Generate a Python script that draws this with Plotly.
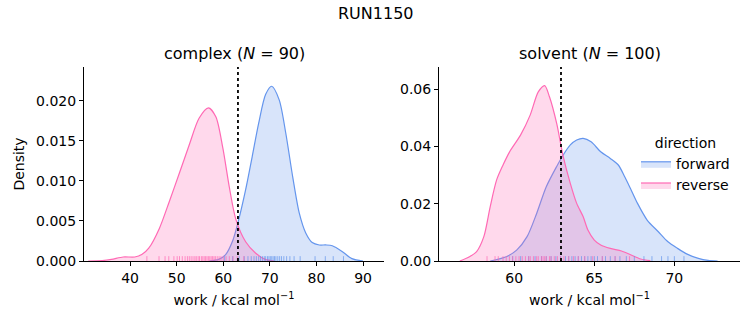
import plotly.graph_objects as go

# ---------------- data ----------------
suptitle = "RUN1150"
panel_titles = ["complex (<i>N</i> = 90)", "solvent (<i>N</i> = 100)"]
directions = ["forward", "reverse"]

# KDE curves: complex
cx_fwd_x = [57, 59, 60.5, 62, 63.2, 64.8, 66.2, 67.6, 69.1, 70.4, 72.0, 73.4, 74.9, 76.3, 77.7, 79.1, 80.6, 82.0, 83.4, 85.5, 87.6, 90.0]
cx_fwd_y = [0.0, 0.0002, 0.0008, 0.0025, 0.0049, 0.0089, 0.013, 0.0172, 0.0208, 0.0218, 0.0201, 0.016, 0.0105, 0.006, 0.0035, 0.0023, 0.002, 0.002, 0.0019, 0.0012, 0.0003, 0.0]
cx_rev_x = [31, 34, 36, 38.5, 41, 42.5, 44, 46.3, 48.4, 50.6, 52.7, 54.8, 56.8, 58.4, 59.9, 61.3, 62.7, 64.8, 66.9, 69, 71]
cx_rev_y = [0.0, 0.00005, 0.0002, 0.0005, 0.0005, 0.0008, 0.0016, 0.0041, 0.0074, 0.011, 0.0145, 0.0178, 0.0191, 0.018, 0.0141, 0.0092, 0.0052, 0.0024, 0.001, 0.0002, 0.0]

# KDE curves: solvent
sv_fwd_x = [58.5, 59.5, 60.15, 60.8, 61.4, 62.0, 62.65, 63.06, 63.5, 63.9, 64.3, 64.8, 65.4, 66.0, 66.5, 66.9, 67.3, 67.7, 68.3, 69.0, 69.6, 70.2, 70.8, 71.5, 72.1, 72.7]
sv_fwd_y = [0.0, 0.0015, 0.0038, 0.0085, 0.0166, 0.0259, 0.033, 0.037, 0.0405, 0.0422, 0.0428, 0.0416, 0.0381, 0.0358, 0.0335, 0.0294, 0.0248, 0.0201, 0.0143, 0.0102, 0.0067, 0.0044, 0.0024, 0.0009, 0.0002, 0.0]
sv_rev_x = [56.6, 57.2, 57.65, 58.1, 58.5, 58.9, 59.3, 59.7, 60.4, 61.0, 61.5, 61.9, 62.2, 62.65, 63.06, 63.5, 63.9, 64.3, 64.6, 65.0, 65.4, 66.0, 66.7, 67.3, 67.9, 68.5]
sv_rev_y = [0.0, 0.0015, 0.0033, 0.0085, 0.019, 0.0283, 0.0335, 0.038, 0.044, 0.051, 0.059, 0.0612, 0.0573, 0.048, 0.0364, 0.0271, 0.0201, 0.0155, 0.0108, 0.0073, 0.0056, 0.0044, 0.0035, 0.0021, 0.0007, 0.0001]

# rug samples (approximate)
cx_fwd_rug = [60.3, 62.0, 63.4, 64.5, 65.3, 66.0, 66.6, 67.1, 67.6, 68.0, 68.4, 68.8, 69.1, 69.5, 69.8, 70.1, 70.4, 70.7, 71.0, 71.3, 71.7, 72.1, 72.5, 73.0, 73.6, 74.3, 75.2, 76.5, 79.7, 81.9, 83.6, 85.8]
cx_rev_rug = [43.6, 46.2, 47.5, 48.3, 49.4, 50.1, 50.6, 51.2, 51.8, 52.3, 52.7, 53.1, 53.5, 53.9, 54.2, 54.6, 54.9, 55.3, 55.6, 55.9, 56.2, 56.5, 56.8, 57.1, 57.4, 57.7, 58.0, 58.3, 58.7, 59.1, 59.5, 60.0, 60.6, 61.3, 62.1, 63.0, 64.4]
sv_fwd_rug = [59.9, 60.4, 60.9, 61.3, 61.7, 62.0, 62.3, 62.6, 62.9, 63.2, 63.4, 63.6, 63.8, 64.0, 64.2, 64.4, 64.6, 64.8, 65.0, 65.2, 65.5, 65.7, 66.0, 66.3, 66.6, 67.0, 67.5, 68.1, 68.6, 69.2, 69.6, 70.0, 70.6]
sv_rev_rug = [58.3, 58.8, 59.0, 59.3, 59.5, 59.7, 59.9, 60.1, 60.3, 60.5, 60.7, 60.9, 61.0, 61.2, 61.4, 61.5, 61.7, 61.8, 61.9, 62.0, 62.2, 62.3, 62.5, 62.7, 62.9, 63.1, 63.4, 63.7, 64.0, 64.4, 64.9, 65.5, 66.3, 67.2]

# dotted reference lines (free energy estimates)
ref_lines = [63.15, 62.92]

x_ticks = [[40, 50, 60, 70, 80, 90], [60, 65, 70]]
y_ticks = [[0.0, 0.005, 0.010, 0.015, 0.020], [0.0, 0.02, 0.04, 0.06]]

# ---------------- style ----------------
FONT = "DejaVu Sans"
line_col = {"forward": "#6495ED", "reverse": "#FF69B4"}
fill_col = {"forward": "rgba(100,149,237,0.25)", "reverse": "rgba(255,105,180,0.25)"}
rug_col = {"forward": "rgba(100,149,237,0.7)", "reverse": "rgba(255,105,180,0.7)"}

W, H = 753, 325
xdom = [[84 / W, 384 / W], [439 / W, 740 / W]]
ydom = [(325 - 261) / H, (325 - 67) / H]
xr = [[30.1, 94.5], [55.3, 74.1]]
yr = [[0, 0.0242], [0, 0.0677]]
yfmt = [".3f", ".2f"]

fig = go.Figure()

panels = [
    {"fwd": (cx_fwd_x, cx_fwd_y, cx_fwd_rug), "rev": (cx_rev_x, cx_rev_y, cx_rev_rug)},
    {"fwd": (sv_fwd_x, sv_fwd_y, sv_fwd_rug), "rev": (sv_rev_x, sv_rev_y, sv_rev_rug)},
]

for i, p in enumerate(panels):
    xa = "x" if i == 0 else "x2"
    ya = "y" if i == 0 else "y2"
    for key, d in (("fwd", "forward"), ("rev", "reverse")):
        xs, ys, rug = p[key]
        fig.add_trace(go.Scatter(
            x=xs, y=ys, mode="lines", xaxis=xa, yaxis=ya,
            line=dict(color=line_col[d], width=1.2, shape="spline", smoothing=0.8),
            fill="tozeroy", fillcolor=fill_col[d],
            name=d, legendgroup=d, showlegend=(i == 1),
            hoverinfo="skip",
        ))
        for v in rug:
            fig.add_shape(type="line", xref=xa, yref=f"{ya} domain",
                          x0=v, x1=v, y0=0, y1=0.025,
                          line=dict(color=rug_col[d], width=1), layer="above")
    fig.add_shape(type="line", xref=xa, yref=f"{ya} domain",
                  x0=ref_lines[i], x1=ref_lines[i], y0=0, y1=1,
                  line=dict(color="black", width=1.8, dash="dot"), layer="above")

axis_common = dict(showline=True, linecolor="black", linewidth=1, mirror=False,
                   ticks="outside", ticklen=4, tickwidth=1, tickcolor="black",
                   showgrid=False, zeroline=False, automargin=False,
                   tickfont=dict(family=FONT, size=14, color="black"))

for i in range(2):
    sx = "" if i == 0 else "2"
    fig.update_layout(**{
        f"xaxis{sx}": dict(axis_common, domain=xdom[i], range=xr[i], tickvals=x_ticks[i],
                           anchor="y" + sx,
                           title=dict(text="work / kcal mol<sup>−1</sup>",
                                      font=dict(family=FONT, size=14, color="black"), standoff=10)),
        f"yaxis{sx}": dict(axis_common, domain=ydom, range=yr[i], tickvals=y_ticks[i],
                           tickformat=yfmt[i], anchor="x" + sx,
                           title=dict(text="Density" if i == 0 else "",
                                      font=dict(family=FONT, size=14, color="black"), standoff=8)),
    })

annotations = [
    dict(text=suptitle, x=376 / W, y=1 - 13 / H, xref="paper", yref="paper",
         showarrow=False, font=dict(family=FONT, size=16, color="black"),
         xanchor="center", yanchor="middle"),
]
for i in range(2):
    annotations.append(dict(text=panel_titles[i], x=(xdom[i][0] + xdom[i][1]) / 2, y=1 - 54 / H,
                            xref="paper", yref="paper", showarrow=False,
                            font=dict(family=FONT, size=16, color="black"),
                            xanchor="center", yanchor="middle"))

fig.update_layout(
    width=W, height=H,
    margin=dict(l=0, r=0, t=0, b=0, autoexpand=False),
    paper_bgcolor="white", plot_bgcolor="white",
    annotations=annotations,
    font=dict(family=FONT, size=14, color="black"),
    legend=dict(title=dict(text="direction", side="top center",
                           font=dict(family=FONT, size=14, color="black")),
                x=636 / W, y=1 - 130 / H, xanchor="left", yanchor="top",
                bgcolor="rgba(0,0,0,0)", font=dict(family=FONT, size=14, color="black"),
                tracegroupgap=0, itemwidth=30),
)

fig.write_html("out.html")
